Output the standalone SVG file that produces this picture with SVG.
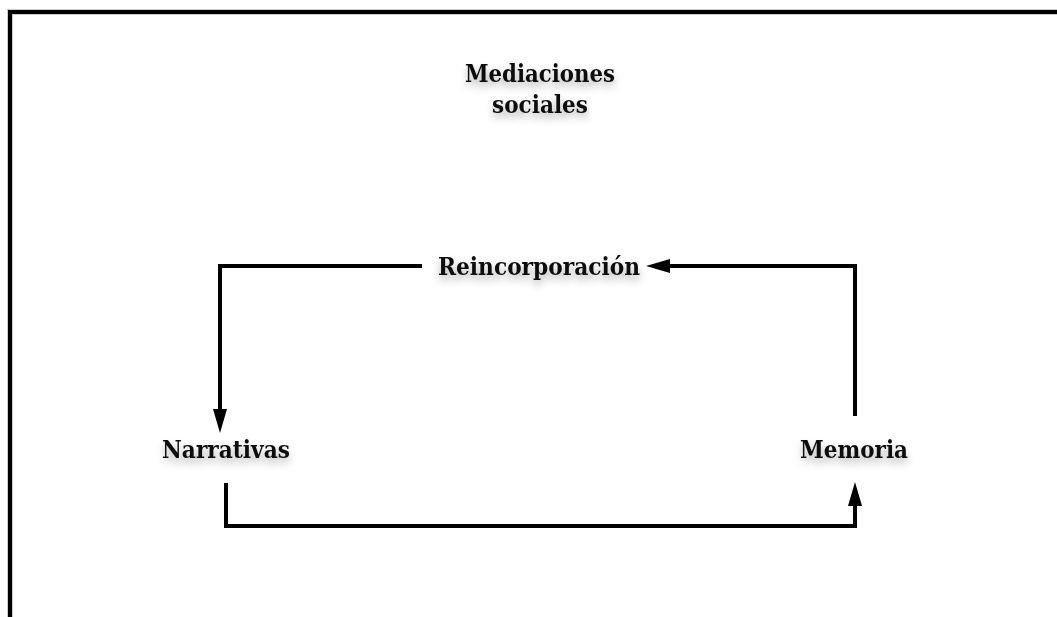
<svg xmlns="http://www.w3.org/2000/svg" width="1057" height="617" viewBox="0 0 1057 617">
  <defs>
    <style>
      .lbl { font-family: "DejaVu Serif", "Liberation Serif", serif; font-weight: bold; font-size: 25px; fill: #111; text-anchor: middle; filter: url(#shadow); }
      .conn { fill: none; stroke: #000; stroke-width: 4; }
    </style>
    <filter id="shadow" x="-20%" y="-60%" width="140%" height="220%">
      <feGaussianBlur in="SourceAlpha" stdDeviation="4"/>
      <feOffset dx="0" dy="5" result="b"/>
      <feComponentTransfer><feFuncA type="linear" slope="0.3"/></feComponentTransfer>
      <feMerge><feMergeNode/><feMergeNode in="SourceGraphic"/></feMerge>
    </filter>
    <marker id="arrow" viewBox="0 0 10 10" refX="0" refY="5" markerUnits="userSpaceOnUse" markerWidth="24" markerHeight="14" orient="auto" preserveAspectRatio="none">
      <path d="M0,0 L10,5 L0,10 Z" fill="#000"/>
    </marker>
  </defs>
  <rect x="0" y="0" width="1057" height="617" fill="#fff"/>
  <rect x="10" y="12" width="1200" height="800" fill="none" stroke="#ccc" stroke-width="6"/>
  <rect x="10" y="12" width="1200" height="800" fill="none" stroke="#000" stroke-width="4"/>

  <g id="connectors">
    <path class="conn" d="M422,266 H220 V409" marker-end="url(#arrow)"/>
    <path class="conn" d="M855,416 V266 H670" marker-end="url(#arrow)"/>
    <path class="conn" d="M226,483 V526 H855 V506" marker-end="url(#arrow)"/>
  </g>

  <g id="mediaciones">
    <text class="lbl" x="540" y="82" textLength="150" lengthAdjust="spacingAndGlyphs">Mediaciones</text>
    <text class="lbl" x="540" y="113" textLength="96" lengthAdjust="spacingAndGlyphs">sociales</text>
  </g>
  <g id="reincorporacion">
    <text class="lbl" x="539" y="275" textLength="202" lengthAdjust="spacingAndGlyphs">Reincorporación</text>
  </g>
  <g id="narrativas">
    <text class="lbl" x="226" y="458" textLength="128" lengthAdjust="spacingAndGlyphs">Narrativas</text>
  </g>
  <g id="memoria">
    <text class="lbl" x="854" y="458" textLength="108" lengthAdjust="spacingAndGlyphs">Memoria</text>
  </g>
</svg>
